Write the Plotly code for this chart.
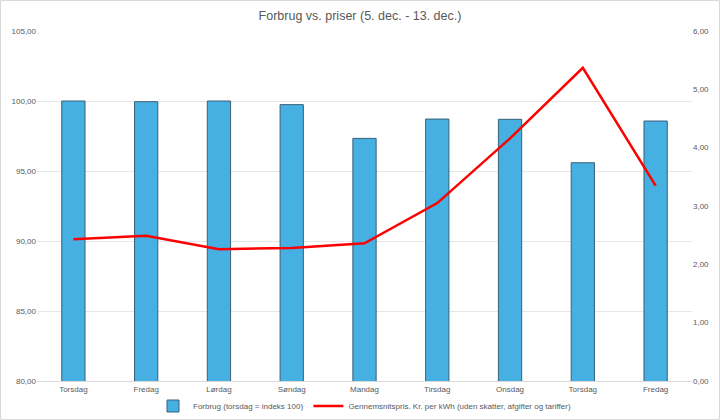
import plotly.graph_objects as go

days = ["Torsdag", "Fredag", "Lørdag", "Søndag", "Mandag", "Tirsdag", "Onsdag", "Torsdag", "Fredag"]
forbrug = [100.0, 99.95, 100.0, 99.74, 97.33, 98.71, 98.69, 95.59, 98.57]
pris = [2.43, 2.49, 2.26, 2.28, 2.36, 3.05, 4.16, 5.37, 3.35]

x_idx = list(range(len(days)))

W, H = 720, 420
ML, MR, MT, MB = 37, 28, 31, 39
pw = W - ML - MR
ph = H - MT - MB

fig = go.Figure()
fig.add_trace(go.Bar(
    x=x_idx, y=forbrug, name="Forbrug (torsdag = indeks 100)",
    marker=dict(color="#45B0E1", line=dict(color="#3A5F78", width=1)),
    yaxis="y",
))
fig.add_trace(go.Scatter(
    x=x_idx, y=pris, mode="lines",
    name="Gennemsnitspris. Kr. per kWh (uden skatter, afgifter og tariffer)",
    line=dict(color="#FF0000", width=2.5),
    yaxis="y2",
))

font_fam = "Liberation Sans, Arial, sans-serif"
fs = 8
fig.update_layout(
    width=W, height=H,
    margin=dict(l=ML, r=MR, t=MT, b=MB, autoexpand=False),
    paper_bgcolor="white", plot_bgcolor="white",
    separators=",.",
    font=dict(family=font_fam, size=fs, color="#595959"),
    title=dict(text="Forbrug vs. priser (5. dec. - 13. dec.)", x=0.5, xanchor="center",
               y=1 - 16 / H, yanchor="middle",
               font=dict(size=12.5, color="#595959", family=font_fam)),
    bargap=0.68,
    showlegend=True,
    legend=dict(orientation="h", x=0.5, xanchor="center", y=-(406 - 381) / ph, yanchor="middle",
                font=dict(size=fs, color="#595959"), bgcolor="rgba(0,0,0,0)",
                itemwidth=30, tracegroupgap=0),
    xaxis=dict(
        tickmode="array", tickvals=x_idx, ticktext=days,
        range=[-0.5, len(days) - 0.5],
        showgrid=False, showline=True, linecolor="#D9D9D9", linewidth=1,
        ticks="", tickfont=dict(size=fs, color="#595959"),
    ),
    yaxis=dict(
        range=[80, 105], dtick=5, tickformat=".2f",
        showgrid=True, gridcolor="#E6E6E6", gridwidth=1,
        zeroline=False, showline=False, ticks="",
        tickfont=dict(size=fs, color="#595959"),
    ),
    yaxis2=dict(
        range=[0, 6], dtick=1, tickformat=".2f",
        overlaying="y", side="right",
        showgrid=False, zeroline=False, showline=False, ticks="",
        tickfont=dict(size=fs, color="#595959"),
    ),
    shapes=[dict(
        type="rect", xref="paper", yref="paper",
        x0=(-ML + 0.5) / pw, x1=(pw + MR - 0.5) / pw,
        y0=(-MB + 0.5) / ph, y1=(ph + MT - 0.5) / ph,
        line=dict(color="#D9D9D9", width=1), fillcolor="rgba(0,0,0,0)", layer="below",
    )],
)

fig.write_html("out.html")
